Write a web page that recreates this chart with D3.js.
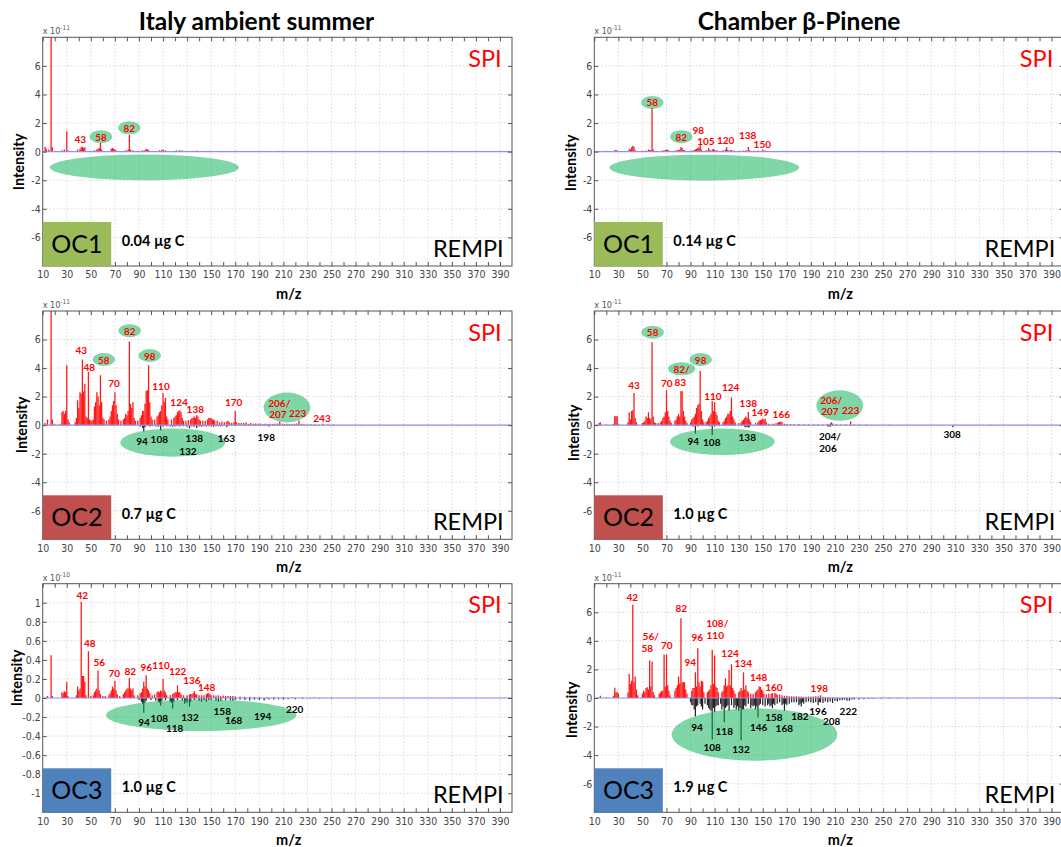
<!DOCTYPE html>
<html>
<head>
<meta charset="utf-8">
<script src="https://cdn.jsdelivr.net/npm/d3@7"></script>
<style>
  body { margin: 0; background: #fff; }
  svg { display: block; }
</style>
</head>
<body>
<svg id="fig" width="1061" height="847"></svg>
<script>
// ---------- axis tick values ----------
const mzTickLabels = [10, 30, 50, 70, 90, 110, 130, 150, 170, 190, 210, 230, 250, 270, 290, 310, 330, 350, 370, 390];
const mzMinorTicks = [20, 40, 60, 80, 100, 120, 140, 160, 180, 200, 220, 240, 260, 280, 300, 320, 340, 360, 380];
const intensityTicksE11 = [-6, -4, -2, 0, 2, 4, 6];
const intensityTicksE10 = [-1, -0.8, -0.6, -0.4, -0.2, 0, 0.2, 0.4, 0.6, 0.8, 1];

// ---------- spectra: [m/z, intensity] ----------
// Italy ambient summer, OC1 (x 1e-11)
const italyOC1Spi = [[12,0.35],[13,0.2],[15,0.15],[17,9.5],[18,0.3],[26,0.1],[28,0.15],[30,1.42],[31,0.1],[39,0.15],[41,0.2],[42,0.3],[43,0.35],[44,0.25],[45,0.3],[53,0.1],[55,0.15],[56,0.2],[57,0.25],[58,0.6],[59,0.15],[67,0.2],[68,0.25],[69,0.2],[70,0.15],[71,0.1],[79,0.1],[81,0.15],[82,1.19],[83,0.15],[85,0.1],[93,0.1],[95,0.12],[96,0.2],[97,0.15],[98,0.12],[107,0.1],[109,0.12],[110,0.15],[112,0.1],[121,0.1],[124,0.12],[126,0.08],[135,0.06],[138,0.08],[149,0.06],[152,0.05],[163,0.05],[170,0.06],[182,0.05],[190,0.04],[197,0.05],[206,0.06],[212,0.04],[223,0.05],[238,0.04],[250,0.05],[262,0.04],[276,0.05],[291,0.04],[305,0.05],[322,0.04],[338,0.05],[351,0.04],[367,0.05],[380,0.04],[393,0.05]];
const italyOC1Rempi = [[94,-0.03],[108,-0.03],[132,-0.02]];
const italyOC1Labels = [["43",41.3,0.88,"s"],["58",58.4,1.05,"sc"],["82",81.9,1.67,"sc"]];
const italyOC1Zones = [[16,173,-0.2,-2.0]];

// Chamber beta-pinene, OC1 (x 1e-11)
const chamberOC1Spi = [[14,0.05],[20,0.06],[27,0.1],[28,0.12],[29,0.08],[39,0.2],[40,0.15],[41,0.3],[42,0.42],[43,0.35],[44,0.1],[50,0.06],[53,0.08],[55,0.15],[56,0.1],[57,0.12],[58,3.05],[59,0.15],[67,0.1],[69,0.12],[70,0.15],[71,0.12],[72,0.08],[77,0.08],[79,0.12],[80,0.1],[81,0.15],[82,0.33],[83,0.25],[84,0.12],[85,0.1],[91,0.08],[93,0.12],[94,0.15],[95,0.2],[96,0.25],[97,0.3],[98,0.49],[99,0.15],[103,0.1],[105,0.25],[106,0.12],[108,0.15],[109,0.2],[110,0.12],[112,0.1],[117,0.1],[119,0.15],[120,0.3],[121,0.12],[123,0.1],[124,0.12],[126,0.08],[131,0.06],[134,0.08],[136,0.1],[138,0.33],[139,0.1],[143,0.06],[146,0.08],[150,0.15],[152,0.08],[160,0.05],[172,0.04],[186,0.04],[205,0.04],[220,0.03],[240,0.03],[265,0.03],[290,0.03],[320,0.03],[350,0.03],[380,0.03]];
const chamberOC1Rempi = [[94,-0.02],[108,-0.02]];
const chamberOC1Labels = [["58",58.2,3.44,"sc"],["82",82.3,1.05,"sc"],["98",96.4,1.48,"s"],["105",102.8,0.72,"s"],["120",119.2,0.8,"s"],["138",137.5,1.16,"s"],["150",149.6,0.54,"s"]];
const chamberOC1Zones = [[22.5,180.3,-0.21,-2.02]];

// Italy ambient summer, OC2 (x 1e-11)
const italyOC2Spi = [[12,0.15],[14,0.4],[17,9.5],[18,0.4],[20,0.1],[24,0.1],[26,0.9],[27,1.0],[28,0.8],[29,1.0],[30,4.2],[31,0.4],[32,0.2],[37,0.2],[38,0.5],[39,1.75],[40,1.2],[41,2.3],[42,2.2],[43,4.6],[44,2.35],[45,2.9],[46,0.6],[47,0.5],[48,3.72],[49,0.4],[50,0.3],[51,0.3],[52,0.4],[53,1.3],[54,1.6],[55,2.3],[56,2.0],[57,1.4],[58,3.5],[59,1.6],[60,0.5],[61,0.4],[63,0.3],[65,0.4],[66,0.6],[67,1.0],[68,1.4],[69,1.7],[70,2.3],[71,1.4],[72,0.8],[73,0.4],[75,0.3],[77,0.4],[78,0.5],[79,0.8],[80,0.7],[81,1.0],[82,5.86],[83,1.5],[84,1.2],[85,1.6],[86,0.5],[87,0.3],[89,0.3],[91,0.5],[92,0.7],[93,1.0],[94,1.0],[95,1.5],[96,2.4],[97,2.45],[98,4.2],[99,1.6],[100,0.6],[101,0.4],[103,0.4],[105,0.6],[106,0.7],[107,0.9],[108,1.0],[109,1.4],[110,2.25],[111,1.6],[112,1.9],[113,0.6],[114,0.4],[117,0.4],[119,0.5],[120,0.6],[121,0.7],[122,0.9],[123,1.0],[124,1.05],[125,0.9],[126,0.5],[127,0.3],[129,0.3],[131,0.35],[133,0.4],[134,0.5],[135,0.5],[136,0.6],[137,0.5],[138,0.7],[139,0.6],[140,0.4],[141,0.3],[143,0.3],[145,0.3],[147,0.4],[148,0.5],[149,0.5],[150,0.5],[151,0.4],[152,0.4],[153,0.3],[155,0.3],[157,0.2],[159,0.25],[161,0.2],[163,0.25],[164,0.3],[165,0.2],[167,0.15],[169,0.2],[170,1.0],[171,0.2],[173,0.15],[175,0.15],[177,0.15],[179,0.2],[181,0.1],[183,0.15],[185,0.1],[187,0.12],[189,0.1],[191,0.12],[193,0.08],[195,0.1],[197,0.08],[199,0.1],[201,0.08],[203,0.1],[205,0.12],[207,0.25],[209,0.1],[211,0.08],[213,0.1],[215,0.08],[217,0.08],[219,0.1],[221,0.12],[223,0.33],[225,0.08],[227,0.06],[230,0.06],[233,0.06],[236,0.05],[240,0.05],[243,0.1],[247,0.04],[252,0.04],[258,0.03],[265,0.03],[275,0.02],[290,0.02],[310,0.02],[330,0.02],[355,0.02],[380,0.02]];
const italyOC2Rempi = [[91,-0.1],[93,-0.2],[94,-0.45],[95,-0.15],[99,-0.1],[101,-0.08],[104,-0.1],[106,-0.12],[108,-0.35],[110,-0.1],[113,-0.08],[116,-0.1],[118,-0.12],[120,-0.1],[122,-0.08],[124,-0.1],[127,-0.08],[130,-0.12],[132,-0.22],[134,-0.1],[136,-0.12],[138,-0.2],[140,-0.1],[142,-0.12],[144,-0.08],[146,-0.1],[148,-0.08],[150,-0.1],[152,-0.12],[154,-0.08],[156,-0.08],[158,-0.1],[160,-0.06],[163,-0.15],[166,-0.06],[170,-0.06],[174,-0.05],[178,-0.05],[182,-0.04],[186,-0.05],[190,-0.04],[194,-0.05],[198,-0.1],[202,-0.04],[206,-0.05],[210,-0.04],[214,-0.04],[220,-0.03],[228,-0.03],[236,-0.02],[250,-0.02],[270,-0.02],[300,-0.02]];
const italyOC2Labels = [["43",42.1,5.28,"s"],["48",48.7,4.1,"s"],["58",60.8,4.6,"sc"],["82",82.3,6.62,"sc"],["98",99,4.88,"sc"],["70",69.2,2.93,"s"],["110",108.3,2.77,"s"],["124",123.3,1.63,"s"],["138",136.8,1.14,"s"],["170",168.7,1.63,"s"],["206/",206.6,1.58,"s"],["207",205.5,0.79,"s"],["223",221.9,0.86,"s"],["243",242.1,0.51,"s"],
  ["94",92.5,-1.12,"r"],["108",106.9,-0.95,"r"],["138",136,-0.93,"r"],["132",130.7,-1.81,"r"],["163",162.6,-0.93,"r"],["198",195.8,-0.84,"r"]];
const italyOC2Zones = [[74.5,161.7,-0.23,-2.21],[193.6,232.4,2.28,0.19]];

// Chamber beta-pinene, OC2 (x 1e-11)
const chamberOC2Spi = [[14,0.15],[15,0.2],[20,0.05],[26,0.1],[27,0.65],[28,0.6],[29,0.65],[30,0.1],[38,0.2],[39,0.9],[40,0.4],[41,1.0],[42,1.05],[43,2.26],[44,0.5],[45,0.2],[50,0.15],[51,0.2],[52,0.3],[53,0.6],[54,0.5],[55,0.9],[56,0.5],[57,0.4],[58,5.81],[59,0.6],[60,0.2],[61,0.15],[63,0.15],[65,0.2],[66,0.3],[67,0.5],[68,0.6],[69,0.9],[70,2.44],[71,1.0],[72,0.6],[73,0.3],[74,0.15],[77,0.3],[78,0.4],[79,0.6],[80,0.8],[81,0.6],[82,2.37],[83,2.37],[84,1.0],[85,0.6],[86,0.3],[87,0.15],[90,0.2],[91,0.4],[92,0.5],[93,0.6],[94,0.8],[95,1.2],[96,1.4],[97,1.5],[98,3.79],[99,1.0],[100,0.4],[101,0.2],[103,0.2],[104,0.3],[105,0.5],[106,0.6],[107,0.8],[108,1.7],[109,1.0],[110,1.63],[111,0.9],[112,0.7],[113,0.3],[114,0.2],[117,0.2],[118,0.3],[119,0.5],[120,0.6],[121,0.8],[122,0.8],[123,1.0],[124,1.93],[125,0.6],[126,0.4],[127,0.2],[130,0.15],[132,0.2],[133,0.3],[134,0.4],[135,0.5],[136,0.6],[137,0.5],[138,0.93],[139,0.4],[140,0.2],[144,0.15],[146,0.2],[147,0.3],[148,0.35],[149,0.4],[150,0.47],[151,0.4],[152,0.45],[153,0.2],[155,0.1],[158,0.1],[160,0.12],[162,0.15],[163,0.2],[164,0.22],[165,0.25],[166,0.2],[168,0.1],[170,0.08],[173,0.08],[176,0.06],[180,0.08],[184,0.06],[188,0.06],[192,0.05],[196,0.06],[200,0.05],[204,0.08],[206,0.12],[207,0.2],[208,0.12],[211,0.06],[215,0.05],[219,0.06],[223,0.28],[226,0.05],[230,0.04],[236,0.04],[245,0.03],[255,0.03],[270,0.02],[290,0.02],[310,0.02],[340,0.02],[370,0.02]];
const chamberOC2Rempi = [[92,-0.1],[94,-0.58],[96,-0.1],[100,-0.05],[104,-0.06],[106,-0.1],[108,-0.7],[110,-0.1],[114,-0.05],[118,-0.06],[122,-0.06],[126,-0.05],[132,-0.06],[135,-0.12],[136,-0.15],[137,-0.12],[138,-0.16],[139,-0.12],[142,-0.05],[148,-0.05],[156,-0.04],[166,-0.04],[180,-0.03],[194,-0.03],[204,-0.1],[205,-0.08],[206,-0.12],[208,-0.05],[222,-0.03],[240,-0.03],[256,-0.03],[270,-0.03],[290,-0.03],[308,-0.15],[320,-0.02]];
const chamberOC2Labels = [["58",58.5,6.51,"sc"],["82/",82.6,3.95,"sc"],["98",98.4,4.6,"sc"],["43",43,2.79,"s"],["70",70.2,2.93,"s"],["83",81.5,3.02,"s"],["110",108.6,2.05,"s"],["124",123.3,2.65,"s"],["138",138,1.58,"s"],["149",147.9,0.89,"s"],["166",165.4,0.79,"s"],["206/",206.9,1.79,"s"],["207",205.8,0.98,"s"],["223",223,1.03,"s"],
  ["94",92.3,-1.12,"r"],["108",107.6,-1.21,"r"],["138",137.1,-0.81,"r"],["204/",205.8,-0.74,"r"],["206",204.2,-1.63,"r"],["308",307.4,-0.65,"r"]];
const chamberOC2Zones = [[72.9,159.9,-0.23,-2.09],[194.5,233.5,2.44,0.3]];

// Italy ambient summer, OC3 (x 1e-10)
const italyOC3Spi = [[14,0.02],[17,0.45],[18,0.02],[26,0.06],[27,0.05],[28,0.07],[29,0.06],[30,0.17],[31,0.02],[38,0.03],[39,0.12],[40,0.08],[41,0.1],[42,1.01],[43,0.23],[44,0.23],[45,0.17],[46,0.03],[48,0.49],[50,0.02],[52,0.03],[53,0.06],[54,0.08],[55,0.1],[56,0.29],[57,0.08],[58,0.04],[60,0.02],[62,0.02],[65,0.03],[66,0.05],[67,0.08],[68,0.12],[69,0.1],[70,0.18],[71,0.08],[72,0.04],[74,0.02],[77,0.04],[78,0.06],[79,0.08],[80,0.1],[81,0.1],[82,0.21],[83,0.1],[84,0.08],[85,0.1],[86,0.03],[89,0.03],[91,0.05],[92,0.06],[93,0.1],[94,0.17],[95,0.12],[96,0.24],[97,0.1],[98,0.08],[99,0.05],[101,0.03],[103,0.04],[105,0.06],[106,0.07],[107,0.06],[108,0.08],[109,0.07],[110,0.2],[111,0.08],[112,0.06],[113,0.03],[116,0.03],[118,0.04],[119,0.05],[120,0.06],[121,0.06],[122,0.13],[123,0.06],[124,0.06],[125,0.04],[127,0.03],[130,0.03],[132,0.04],[133,0.04],[134,0.04],[135,0.05],[136,0.07],[137,0.04],[138,0.04],[140,0.03],[142,0.03],[144,0.03],[146,0.04],[147,0.05],[148,0.05],[149,0.04],[150,0.03],[152,0.03],[154,0.025],[156,0.03],[158,0.02],[160,0.025],[162,0.02],[164,0.02],[166,0.02],[168,0.02],[170,0.015],[174,0.015],[178,0.012],[182,0.012],[186,0.01],[190,0.01],[196,0.01],[202,0.008],[210,0.008],[218,0.006],[226,0.005],[236,0.004],[250,0.003],[280,0.003]];
const italyOC3Rempi = [[90,-0.02],[92,-0.04],[93,-0.06],[94,-0.155],[95,-0.05],[96,-0.03],[100,-0.02],[104,-0.03],[106,-0.04],[107,-0.05],[108,-0.08],[109,-0.03],[112,-0.02],[116,-0.04],[117,-0.05],[118,-0.11],[119,-0.04],[122,-0.02],[126,-0.03],[128,-0.06],[129,-0.04],[130,-0.05],[132,-0.09],[133,-0.04],[136,-0.02],[140,-0.03],[142,-0.04],[144,-0.02],[146,-0.04],[148,-0.02],[150,-0.02],[154,-0.03],[156,-0.04],[158,-0.03],[162,-0.02],[166,-0.025],[168,-0.03],[170,-0.02],[174,-0.015],[178,-0.02],[182,-0.025],[186,-0.015],[190,-0.02],[194,-0.025],[198,-0.015],[202,-0.015],[206,-0.012],[210,-0.015],[214,-0.01],[220,-0.012],[226,-0.008],[232,-0.006],[240,-0.005],[250,-0.004],[260,-0.003]];
const italyOC3Labels = [["42",42.9,1.08,"s"],["48",49.1,0.574,"s"],["56",57,0.375,"s"],["70",69.5,0.26,"s"],["82",82.8,0.287,"s"],["96",96.1,0.33,"s"],["110",108.3,0.346,"s"],["122",122.2,0.287,"s"],["136",134,0.19,"s"],["148",146.2,0.12,"s"],
  ["94",94.2,-0.248,"r"],["108",106.9,-0.207,"r"],["118",119.7,-0.311,"r"],["132",132.4,-0.196,"r"],["158",159.2,-0.133,"r"],["168",168.7,-0.231,"r"],["194",192.8,-0.186,"r"],["220",219.4,-0.119,"r"]];
const italyOC3Zones = [[62.6,220.7,-0.014,-0.346]];

// Chamber beta-pinene, OC3 (x 1e-11)
const chamberOC3Spi = [[15,0.16],[20,0.05],[26,0.15],[27,0.72],[28,0.4],[29,0.4],[30,0.3],[38,0.4],[39,1.68],[40,1.0],[41,1.2],[42,6.52],[43,1.1],[44,1.5],[45,0.6],[46,0.2],[50,0.3],[51,0.5],[52,0.4],[53,0.7],[54,0.75],[55,0.6],[56,2.62],[57,0.8],[58,2.55],[59,0.4],[60,0.2],[64,0.3],[65,0.4],[66,0.5],[67,0.5],[68,3.05],[69,0.8],[70,3.05],[71,0.9],[72,0.5],[73,0.2],[77,0.5],[78,0.7],[79,0.9],[80,1.5],[81,1.0],[82,5.58],[83,1.1],[84,1.1],[85,1.1],[86,0.6],[87,0.3],[91,0.5],[92,0.7],[93,0.7],[94,1.8],[95,0.8],[96,3.48],[97,1.1],[98,0.8],[99,1.2],[100,1.15],[101,0.4],[104,0.4],[105,0.5],[106,0.6],[107,0.9],[108,3.36],[109,1.0],[110,2.97],[111,0.8],[112,0.7],[113,0.4],[116,0.4],[117,0.5],[118,0.9],[119,1.38],[120,0.8],[121,0.9],[122,1.96],[123,0.9],[124,2.36],[125,0.7],[126,0.5],[127,0.3],[130,0.4],[131,0.5],[132,0.7],[133,0.5],[134,1.8],[135,0.6],[136,0.9],[137,0.5],[138,0.4],[140,0.3],[142,0.3],[144,0.4],[145,0.5],[146,0.6],[147,0.8],[148,0.79],[149,0.6],[150,0.5],[151,0.3],[153,0.25],[155,0.3],[157,0.3],[158,0.35],[160,0.35],[161,0.3],[162,0.25],[164,0.25],[166,0.2],[168,0.15],[170,0.15],[172,0.12],[174,0.12],[176,0.1],[178,0.12],[180,0.1],[182,0.1],[184,0.08],[186,0.08],[188,0.1],[190,0.08],[192,0.1],[194,0.12],[196,0.12],[198,0.2],[200,0.08],[202,0.06],[205,0.05],[208,0.05],[212,0.04],[216,0.04],[220,0.03],[226,0.03],[232,0.02],[240,0.02],[250,0.02],[265,0.02],[285,0.01]];
const chamberOC3Rempi = [[90,-0.3],[91,-0.5],[92,-0.5],[93,-0.8],[94,-1.3],[95,-0.6],[96,-0.5],[98,-0.4],[99,-0.6],[100,-0.8],[102,-0.4],[104,-0.5],[105,-0.7],[106,-0.8],[107,-0.9],[108,-2.9],[109,-0.7],[110,-1.0],[111,-0.6],[112,-0.5],[113,-0.5],[115,-0.4],[116,-0.8],[117,-0.6],[118,-1.7],[119,-0.7],[120,-0.6],[121,-0.5],[122,-0.9],[124,-0.5],[126,-0.7],[127,-0.5],[128,-0.8],[129,-0.6],[130,-0.9],[131,-0.7],[132,-2.95],[133,-0.8],[134,-0.8],[135,-0.5],[136,-0.6],[138,-0.4],[140,-0.7],[141,-0.5],[142,-0.6],[143,-0.5],[144,-0.8],[145,-0.6],[146,-1.36],[147,-0.5],[148,-0.4],[150,-0.5],[152,-0.6],[154,-0.5],[155,-0.4],[156,-0.6],[157,-0.5],[158,-0.72],[159,-0.4],[160,-0.5],[162,-0.4],[164,-0.3],[166,-0.5],[167,-0.4],[168,-0.9],[169,-0.4],[170,-0.5],[172,-0.4],[174,-0.3],[176,-0.3],[178,-0.3],[180,-0.5],[181,-0.4],[182,-0.6],[183,-0.3],[184,-0.4],[186,-0.3],[188,-0.25],[190,-0.3],[192,-0.35],[194,-0.3],[196,-0.5],[197,-0.3],[198,-0.3],[200,-0.35],[202,-0.25],[204,-0.3],[206,-0.25],[208,-0.35],[210,-0.2],[212,-0.25],[214,-0.15],[216,-0.15],[218,-0.12],[220,-0.2],[222,-0.2],[224,-0.1],[226,-0.1],[230,-0.1],[234,-0.08],[238,-0.06],[242,-0.05],[248,-0.04],[255,-0.04],[262,-0.03],[270,-0.03],[280,-0.02],[290,-0.02],[300,-0.02],[315,-0.02]];
const chamberOC3Labels = [["42",41.6,7.09,"s"],["82",82.3,6.32,"s"],["56/",56.9,4.36,"s"],["58",54,3.48,"s"],["70",70.2,3.71,"s"],["96",95.6,4.29,"s"],["94",89.8,2.54,"s"],["108/",112.2,5.27,"s"],["110",110.5,4.41,"s"],["124",122.8,3.17,"s"],["134",133.8,2.47,"s"],["148",146.6,1.45,"s"],["160",159.3,0.79,"s"],["198",197,0.68,"s"],
  ["94",95.3,-2.01,"r"],["108",108,-3.45,"r"],["118",118,-2.31,"r"],["132",131.9,-3.59,"r"],["146",146.6,-2.01,"r"],["158",159.3,-1.31,"r"],["168",167.9,-2.08,"r"],["182",180.9,-1.26,"r"],["196",195.9,-0.91,"r"],["208",207.3,-1.61,"r"],["222",221.1,-0.89,"r"]];
const chamberOC3Zones = [[74.3,211.9,-0.72,-4.39]];

// ---------- panel text ----------
const columnTitles = ["Italy ambient summer", "Chamber \u03B2-Pinene"];
const fractionNames = ["OC1", "OC2", "OC3"];
const carbonAmounts = [["0.04 \u00B5g C", "0.14 \u00B5g C"], ["0.7 \u00B5g C", "1.0 \u00B5g C"], ["1.0 \u00B5g C", "1.9 \u00B5g C"]];

// ---------- layout ----------
const colLeft = [42.7, 594.3];
const plotWidth = 469.3;
const rowBounds = [[37.3, 266], [311, 539.3], [583.7, 812.3]];
const fractionColors = ["#9BBB59", "#C0504D", "#4F81BD"];
const ylabelPos = [[[18, 162], [570.5, 163]], [[21.7, 425], [573, 433]], [[16, 678], [571, 710]]];

const panels = [
  { row: 0, col: 0, spi: italyOC1Spi, rempi: italyOC1Rempi, labels: italyOC1Labels, zones: italyOC1Zones, yMax: 8, ticks: intensityTicksE11, exp: "-11" },
  { row: 0, col: 1, spi: chamberOC1Spi, rempi: chamberOC1Rempi, labels: chamberOC1Labels, zones: chamberOC1Zones, yMax: 8, ticks: intensityTicksE11, exp: "-11" },
  { row: 1, col: 0, spi: italyOC2Spi, rempi: italyOC2Rempi, labels: italyOC2Labels, zones: italyOC2Zones, yMax: 8, ticks: intensityTicksE11, exp: "-11" },
  { row: 1, col: 1, spi: chamberOC2Spi, rempi: chamberOC2Rempi, labels: chamberOC2Labels, zones: chamberOC2Zones, yMax: 8, ticks: intensityTicksE11, exp: "-11" },
  { row: 2, col: 0, spi: italyOC3Spi, rempi: italyOC3Rempi, labels: italyOC3Labels, zones: italyOC3Zones, yMax: 1.2, ticks: intensityTicksE10, exp: "-10" },
  { row: 2, col: 1, spi: chamberOC3Spi, rempi: chamberOC3Rempi, labels: chamberOC3Labels, zones: chamberOC3Zones, yMax: 8, ticks: intensityTicksE11, exp: "-11" }
];

const svg = d3.select("#fig");
const defs = svg.append("defs");
const sans = "Lato, 'Open Sans', sans-serif";
const narrow = "'Liberation Sans Narrow', 'Arial Narrow', 'DejaVu Sans Condensed', sans-serif";

// column titles
columnTitles.forEach((t, i) => {
  svg.append("text")
    .attr("x", i === 0 ? 256.5 : 799)
    .attr("y", 30)
    .attr("text-anchor", "middle")
    .attr("font-family", sans)
    .attr("font-weight", 700)
    .attr("font-size", 24.5)
    .attr("fill", "#000")
    .text(t);
});

panels.forEach((p, idx) => {
  const x0 = colLeft[p.col];
  const [top, bottom] = rowBounds[p.row];
  const x = d3.scaleLinear().domain([10, 400]).range([x0, x0 + plotWidth]);
  const y = d3.scaleLinear().domain([-p.yMax, p.yMax]).range([bottom, top]);
  const g = svg.append("g");

  const clipId = "clip" + idx;
  defs.append("clipPath").attr("id", clipId)
    .append("rect").attr("x", x0).attr("y", top).attr("width", plotWidth).attr("height", bottom - top);

  // grid
  const grid = g.append("g").attr("stroke", "#cfcfcf").attr("stroke-width", 0.8).attr("stroke-dasharray", "1.5,2");
  grid.selectAll("line.v").data(mzTickLabels.slice(1)).join("line")
    .attr("x1", d => x(d)).attr("x2", d => x(d)).attr("y1", top).attr("y2", bottom);
  grid.selectAll("line.h").data(p.ticks).join("line")
    .attr("x1", x0).attr("x2", x0 + plotWidth).attr("y1", d => y(d)).attr("y2", d => y(d));

  const plot = g.append("g").attr("clip-path", `url(#${clipId})`);

  // SPI spectrum (up, red) and REMPI spectrum (down, black)
  plot.append("g").selectAll("line").data(p.spi).join("line")
    .attr("x1", d => x(d[0])).attr("x2", d => x(d[0]))
    .attr("y1", y(0)).attr("y2", d => y(d[1]))
    .attr("stroke", "#ff1a1a").attr("stroke-width", 1.3);
  plot.append("g").selectAll("line").data(p.rempi).join("line")
    .attr("x1", d => x(d[0])).attr("x2", d => x(d[0]))
    .attr("y1", y(0)).attr("y2", d => y(d[1]))
    .attr("stroke", "#222").attr("stroke-width", 1.2);

  // zero baseline
  plot.append("line")
    .attr("x1", x0).attr("x2", x0 + plotWidth).attr("y1", y(0)).attr("y2", y(0))
    .attr("stroke", "#9090f0").attr("stroke-width", 1.2);

  // highlighted regions
  plot.append("g").selectAll("ellipse").data(p.zones).join("ellipse")
    .attr("cx", d => (x(d[0]) + x(d[1])) / 2)
    .attr("cy", d => (y(d[2]) + y(d[3])) / 2)
    .attr("rx", d => (x(d[1]) - x(d[0])) / 2)
    .attr("ry", d => (y(d[3]) - y(d[2])) / 2)
    .attr("fill", "#00B050").attr("fill-opacity", 0.5);

  // peak labels
  const lab = g.append("g");
  p.labels.forEach(d => {
    const lg = lab.append("g");
    const t = lg.append("text")
      .attr("x", x(d[1])).attr("y", y(d[2]))
      .attr("text-anchor", "middle")
      .attr("dominant-baseline", "central")
      .attr("font-family", sans)
      .attr("font-weight", 700)
      .attr("font-size", 10)
      .attr("fill", d[3] === "r" ? "#000" : "#ff0000")
      .text(d[0]);
    if (d[3] === "sc") {
      const w = t.node().getComputedTextLength();
      lg.insert("ellipse", "text")
        .attr("cx", x(d[1])).attr("cy", y(d[2]))
        .attr("rx", w / 2 + 5.5).attr("ry", 6.5)
        .attr("fill", "#00B050").attr("fill-opacity", 0.5);
    }
  });

  // axes: inward ticks on all four sides
  const axisStyle = sel => {
    sel.select(".domain").remove();
    sel.selectAll(".tick line").attr("stroke", "#555");
    sel.selectAll(".tick text").attr("font-family", narrow).attr("font-size", 10.5).attr("fill", "#444");
  };
  g.append("g").attr("transform", `translate(0,${bottom})`)
    .call(d3.axisBottom(x).tickValues(mzTickLabels).tickSize(-4).tickPadding(5).tickFormat(d3.format("d")))
    .call(axisStyle);
  g.append("g").attr("transform", `translate(0,${bottom})`)
    .call(d3.axisBottom(x).tickValues(mzMinorTicks).tickSize(-4).tickFormat(""))
    .call(axisStyle);
  g.append("g").attr("transform", `translate(0,${top})`)
    .call(d3.axisTop(x).tickValues(mzTickLabels.concat(mzMinorTicks)).tickSize(-4).tickFormat(""))
    .call(axisStyle);
  g.append("g").attr("transform", `translate(${x0},0)`)
    .call(d3.axisLeft(y).tickValues(p.ticks).tickSize(-4).tickPadding(2).tickFormat(d => String(+d.toFixed(1))))
    .call(axisStyle);
  g.append("g").attr("transform", `translate(${x0 + plotWidth},0)`)
    .call(d3.axisRight(y).tickValues(p.ticks).tickSize(-4).tickFormat(""))
    .call(axisStyle);

  // frame
  g.append("rect").attr("x", x0).attr("y", top).attr("width", plotWidth).attr("height", bottom - top)
    .attr("fill", "none").attr("stroke", "#555").attr("stroke-width", 1);

  // exponent note
  const ex = g.append("text").attr("x", x0).attr("y", top - 3)
    .attr("font-family", narrow).attr("font-size", 9).attr("fill", "#555");
  ex.append("tspan").text("x 10");
  ex.append("tspan").attr("dy", -4).attr("font-size", 6.5).text(p.exp);

  // axis titles
  const [lx, ly] = ylabelPos[p.row][p.col];
  g.append("text").attr("transform", `translate(${lx},${ly}) rotate(-90)`)
    .attr("text-anchor", "middle").attr("dominant-baseline", "central")
    .attr("font-family", sans).attr("font-weight", 700).attr("font-size", 14.5)
    .text("Intensity");
  g.append("text").attr("x", x0 + 246).attr("y", bottom + 27)
    .attr("text-anchor", "middle").attr("dominant-baseline", "central")
    .attr("font-family", sans).attr("font-weight", 700).attr("font-size", 14.5)
    .text("m/z");

  // ionisation mode tags
  g.append("text").attr("x", x0 + 459).attr("y", top + 29.5)
    .attr("text-anchor", "end").attr("font-family", sans).attr("font-size", 23.5).attr("fill", "#ff0000")
    .text("SPI");
  g.append("text").attr("x", x0 + 461).attr("y", bottom - 9.5)
    .attr("text-anchor", "end").attr("font-family", sans).attr("font-size", 23.5).attr("fill", "#000")
    .text("REMPI");

  // fraction box and carbon mass
  g.append("rect").attr("x", x0).attr("y", bottom - 44).attr("width", 68.5).attr("height", 44.3)
    .attr("fill", fractionColors[p.row]);
  g.append("text").attr("x", x0 + 34.2).attr("y", bottom - 13)
    .attr("text-anchor", "middle").attr("font-family", sans).attr("font-size", 25).attr("fill", "#000")
    .text(fractionNames[p.row]);
  g.append("text").attr("x", x0 + 79).attr("y", bottom - 20)
    .attr("font-family", sans).attr("font-weight", 700).attr("font-size", 14.5).attr("fill", "#000")
    .text(carbonAmounts[p.row][p.col]);
});
</script>
</body>
</html>
